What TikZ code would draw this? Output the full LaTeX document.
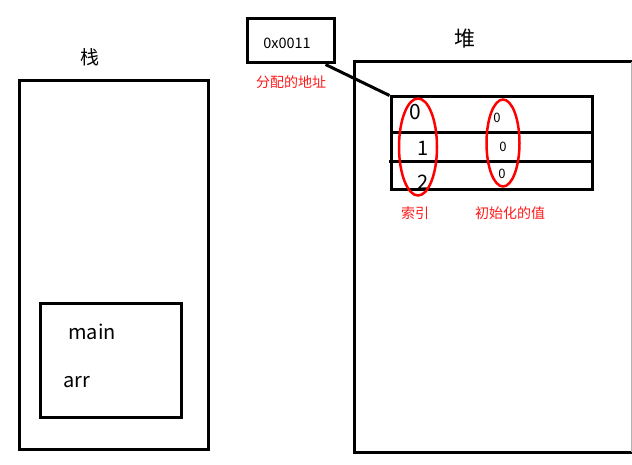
\documentclass[tikz,border=0pt]{standalone}
\usepackage{fontspec}
\setmainfont{Noto Sans CJK SC}
\usetikzlibrary{shapes.geometric}
\begin{document}
\begin{tikzpicture}[x=1pt,y=-1pt,
  box/.style={draw=black,line width=3pt,inner sep=0pt},
  lbl/.style={inner sep=0pt,font=\fontsize{19}{19}\selectfont},
  red lbl/.style={inner sep=0pt,text=red!90!white,font=\fontsize{14}{14}\selectfont},
  oval/.style={draw=red,line width=2.5pt,ellipse,inner sep=0pt}]
\useasboundingbox (0,0) rectangle (632,465);
% stack
\node[box,minimum width=189pt,minimum height=368pt] (stack) at (113.5,265) {};
\node[lbl] (stacklbl) at (90,57) {栈};
\node[box,minimum width=141pt,minimum height=114pt] (frame) at (110.5,360) {};
\node[lbl,font=\fontsize{20}{20}\selectfont] (main) at (92,332) {main};
\node[lbl,font=\fontsize{20}{20}\selectfont] (arrv) at (77,382) {arr};
% address
\node[box,minimum width=87pt,minimum height=44pt] (addr) at (290.5,41) {};
\node[inner sep=0pt,font=\fontsize{14.5}{14.5}\selectfont] (addrtxt) at (287,43) {0x0011};
\node[red lbl] (addrlbl) at (291,82) {分配的地址};
% heap
\draw[line width=3pt] (636,62) -- (354,62) -- (354,452) -- (636,452);
\draw[line width=0.6pt,gray!60] (631,62) -- (631,452);
\node[lbl,font=\fontsize{21}{21}\selectfont] (heaplbl) at (465,39) {堆};
% array
\node[box,minimum width=201pt,minimum height=93pt] (array) at (491.5,143.5) {};
\draw[line width=3pt] (391,133) -- (593,133);
\draw[line width=3pt] (389,162) -- (592,162);
\draw[line width=3pt] ([xshift=-10pt]addr.south east) -- (array.north west);
\node[inner sep=0pt,font=\fontsize{21}{21}\selectfont] (i0) at (415,112) {0};
\node[inner sep=0pt,font=\fontsize{20}{20}\selectfont] (i1) at (423,148) {1};
\node[inner sep=0pt,font=\fontsize{20}{20}\selectfont] (i2) at (423,182) {2};
\node[inner sep=0pt,font=\fontsize{13}{13}\selectfont] (v0) at (497,118) {0};
\node[inner sep=0pt,font=\fontsize{13}{13}\selectfont] (v1) at (503,147) {0};
\node[inner sep=0pt,font=\fontsize{13}{13}\selectfont] (v2) at (502,174) {0};
\node[oval,minimum width=38pt,minimum height=97pt] (ov1) at (418,147) {};
\node[oval,minimum width=33pt,minimum height=87pt] (ov2) at (503,143) {};
\node[red lbl] (idxlbl) at (415,213) {索引};
\node[red lbl] (vallbl) at (510,213) {初始化的值};
\end{tikzpicture}
\end{document}
